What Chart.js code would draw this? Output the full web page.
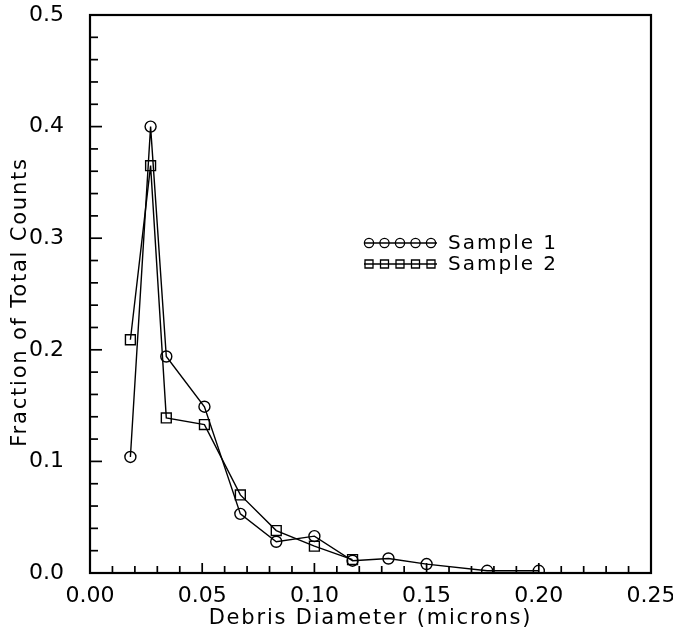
<!DOCTYPE html>
<html><head><meta charset="utf-8">
<script src="https://cdn.jsdelivr.net/npm/chart.js@4"></script>
<style>html,body{margin:0;padding:0;background:#fff}</style>
</head><body>
<canvas id="c" width="673" height="637"></canvas>
<script>
// ---- data ----
const diam1 = [0.018, 0.027, 0.034, 0.051, 0.067, 0.083, 0.100, 0.117, 0.133, 0.150, 0.177, 0.200];
const frac1 = [0.104, 0.400, 0.194, 0.149, 0.053, 0.028, 0.033, 0.011, 0.013, 0.008, 0.002, 0.002];
const diam2 = [0.018, 0.027, 0.034, 0.051, 0.067, 0.083, 0.100, 0.117];
const frac2 = [0.209, 0.365, 0.139, 0.133, 0.070, 0.038, 0.024, 0.012];
const seriesNames = ['Sample 1', 'Sample 2'];
const xTickLabels = ['0.00', '0.05', '0.10', '0.15', '0.20', '0.25'];
const yTickLabels = ['0.0', '0.1', '0.2', '0.3', '0.4', '0.5'];
const xTitle = 'Debris Diameter (microns)';
const yTitle = 'Fraction of Total Counts';

const FONT = "'DejaVu Sans', sans-serif";
function mult(v, step) { const r = v / step; return Math.abs(r - Math.round(r)) < 1e-6; }
function toPts(xs, ys) { return xs.map((x, i) => ({x: x, y: ys[i]})); }

const decor = {
  id: 'decor',
  afterDraw(chart) {
    const {ctx, chartArea: a, scales: {x, y}} = chart;
    ctx.save();
    ctx.strokeStyle = '#000';
    ctx.fillStyle = '#000';
    // frame
    ctx.lineWidth = 2.2;
    ctx.strokeRect(a.left, a.top, a.right - a.left, a.bottom - a.top);
    // inward ticks
    ctx.lineWidth = 1.7;
    x.ticks.forEach(t => {
      const px = x.getPixelForValue(t.value);
      if (px <= a.left + 1 || px >= a.right - 1) return;
      const L = mult(t.value, 0.05) ? 10 : 7;
      ctx.beginPath(); ctx.moveTo(px, a.bottom); ctx.lineTo(px, a.bottom - L); ctx.stroke();
    });
    y.ticks.forEach(t => {
      const py = y.getPixelForValue(t.value);
      if (py <= a.top + 1 || py >= a.bottom - 1) return;
      const L = mult(t.value, 0.1) ? 12 : 8;
      ctx.beginPath(); ctx.moveTo(a.left, py); ctx.lineTo(a.left + L, py); ctx.stroke();
    });
    // axis titles
    ctx.font = '21px ' + FONT;
    ctx.letterSpacing = '1.8px';
    ctx.textAlign = 'center';
    ctx.textBaseline = 'middle';
    ctx.fillText(xTitle, (a.left + a.right) / 2, 619);
    ctx.save();
    ctx.translate(21, (a.top + a.bottom) / 2 + 8);
    ctx.rotate(-Math.PI / 2);
    ctx.fillText(yTitle, 0, 0);
    ctx.restore();
    // legend
    ctx.font = '20px ' + FONT;
    ctx.letterSpacing = '2px';
    ctx.textAlign = 'left';
    chart.data.datasets.forEach((ds, i) => {
      const ry = a.top + 228 + i * 21;
      const x0 = a.left + 274, x1 = a.left + 347;
      ctx.lineWidth = 1.3;
      ctx.beginPath(); ctx.moveTo(x0, ry); ctx.lineTo(x1, ry); ctx.stroke();
      for (let k = 0; k < 5; k++) {
        const cx = x0 + 5 + k * 15.5;
        ctx.beginPath();
        if (ds.pointStyle === 'rect') ctx.rect(cx - 4, ry - 4, 8, 8);
        else ctx.arc(cx, ry, 4.6, 0, Math.PI * 2);
        ctx.stroke();
      }
      ctx.fillText(ds.label, a.left + 358, ry + 1);
    });
    ctx.restore();
  }
};

new Chart(document.getElementById('c'), {
  type: 'line',
  data: {
    datasets: [
      {label: seriesNames[0], data: toPts(diam1, frac1), pointStyle: 'circle', pointRadius: 5.5,
       borderColor: '#000', backgroundColor: 'rgba(0,0,0,0)', borderWidth: 1.4, pointBorderWidth: 1.4, tension: 0},
      {label: seriesNames[1], data: toPts(diam2, frac2), pointStyle: 'rect', pointRadius: 7,
       borderColor: '#000', backgroundColor: 'rgba(0,0,0,0)', borderWidth: 1.4, pointBorderWidth: 1.4, tension: 0}
    ]
  },
  options: {
    responsive: false,
    animation: false,
    layout: {padding: {left: 0, right: 0, top: 4, bottom: 0}},
    plugins: {legend: {display: false}, tooltip: {enabled: false}},
    scales: {
      x: {
        type: 'linear', min: 0, max: 0.25,
        grid: {display: false}, border: {display: false},
        afterFit(s) { s.height = 64; s.paddingRight = 22; s.paddingLeft = 0; },
        ticks: {
          stepSize: 0.01, autoSkip: false, maxRotation: 0, padding: 2,
          color: '#000', font: {family: FONT, size: 22},
          callback: v => mult(v, 0.05) ? xTickLabels[Math.round(v / 0.05)] : ''
        }
      },
      y: {
        type: 'linear', min: 0, max: 0.5,
        grid: {display: false}, border: {display: false},
        afterFit(s) { s.width = 90; s.paddingTop = 15; s.paddingBottom = 0; },
        ticks: {
          stepSize: 0.02, autoSkip: false, padding: 18,
          color: '#000', font: {family: FONT, size: 22},
          callback: v => mult(v, 0.1) ? yTickLabels[Math.round(v / 0.1)] : ''
        }
      }
    }
  },
  plugins: [decor]
});
</script>
</body></html>
